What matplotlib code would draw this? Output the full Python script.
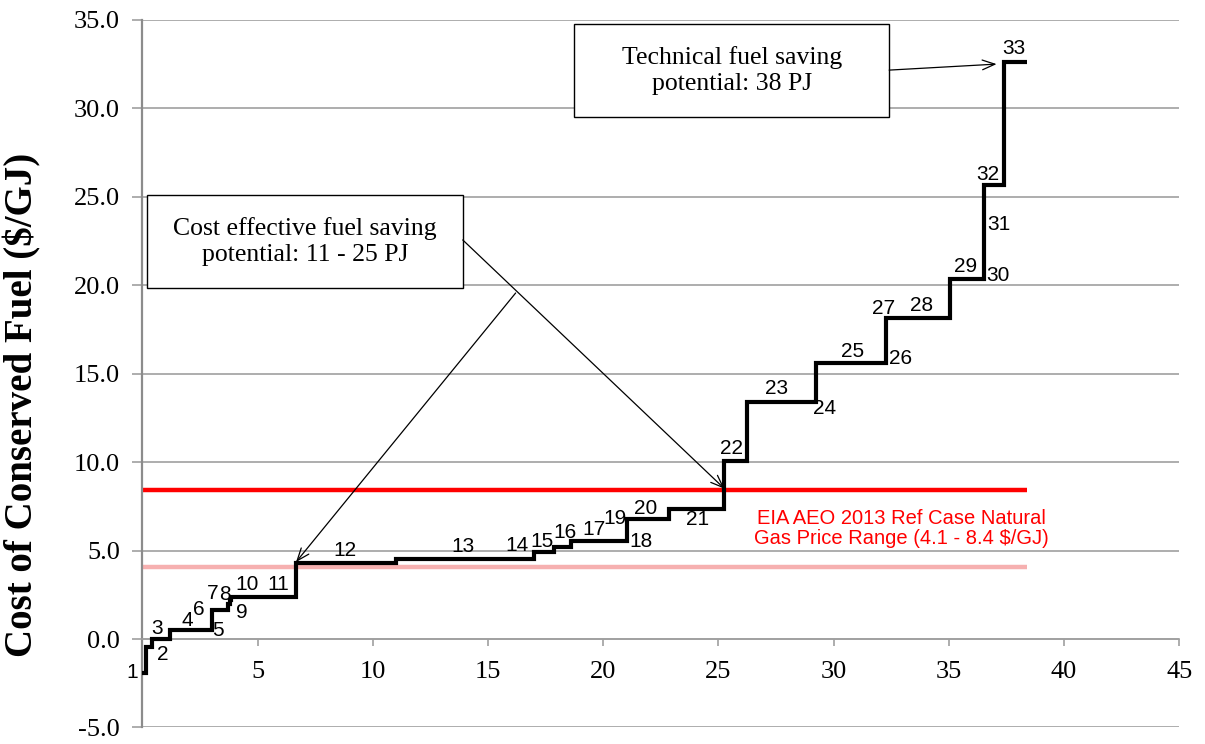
import numpy as np
import matplotlib
matplotlib.use("Agg")
import matplotlib.pyplot as plt
from matplotlib.patches import Rectangle

plt.rcParams['axes.unicode_minus'] = False

# ---------------- data ----------------
measure_ids = list(range(1, 34))
savings_pj = [0.15, 0.26, 0.79, 1.30, 0.52, 0.72, 0.06, 0.06, 0.64, 1.00,
              1.17, 4.36, 5.57, 0.40, 0.87, 0.73, 2.00, 0.43, 0.27, 1.54,
              2.42, 0.97, 2.50, 0.49, 2.54, 0.50, 0.80, 2.01, 1.00, 0.45,
              0.30, 0.55, 1.04]
cost_per_gj = [-1.90, -0.45, 0.00, 0.50, 0.50, 1.64, 2.00, 2.20, 2.39, 2.39,
               2.39, 4.30, 4.50, 4.50, 4.94, 5.22, 5.56, 5.56, 6.78, 6.78,
               7.37, 10.08, 13.42, 13.42, 15.63, 15.63, 18.13, 18.13, 20.33, 20.33,
               25.66, 25.66, 32.60]
gas_price_low = 4.1
gas_price_high = 8.4
x_ticks = [5, 10, 15, 20, 25, 30, 35, 40, 45]
y_ticks = [-5, 0, 5, 10, 15, 20, 25, 30, 35]
cost_effective_range = (11, 25)
technical_potential = 38

# ---------------- style ----------------
label_offsets_px = [(-12, 0), (14, -8), (-4, 11), (2, 10), (12, 0), (-21, 1),
                    (-17, 10), (-6, 6), (3, -16), (-10, 12), (-4, 12), (-1, 12),
                    (2, 13), (-12, 14), (-2, 10), (2, 14), (0, 11), (19, -1),
                    (-15, 1), (-5, 11), (1, -11), (-4, 12), (1, 13), (15, -7),
                    (8, 11), (21, 4), (-11, 10), (-6, 13), (4, 13), (19, 4),
                    (12, -39), (-9, 11), (-2, 14)]
SERIF = ['Liberation Serif', 'DejaVu Serif']
SANS = ['Liberation Sans', 'DejaVu Sans']
GRID = '#a0a0a0'

fig = plt.figure(figsize=(12.05, 7.44), dpi=100)
ax = fig.add_axes([0.1181, 0.0222, 0.8606, 0.9511])
ax.set_xlim(0, 45)
ax.set_ylim(-5, 35)

edges = np.concatenate([[0.0], np.cumsum(savings_pj)])
total = edges[-1]

ax.yaxis.grid(True, color=GRID, lw=1.2, zorder=0)
ax.set_axisbelow(True)

# gas price lines
ax.plot([0, total], [gas_price_low, gas_price_low], color='#f6b0b0', lw=3.2,
        solid_capstyle='butt', zorder=2)
ax.plot([0, total], [gas_price_high, gas_price_high], color='#ff0000', lw=3.2,
        solid_capstyle='butt', zorder=2)

# supply curve
st = ax.stairs(cost_per_gj, edges, baseline=None, color='black', lw=3.0, zorder=3)
st.set_joinstyle('miter')

# data labels
for i, (mid, c) in enumerate(zip((edges[:-1] + edges[1:]) / 2, cost_per_gj)):
    dx, dy = label_offsets_px[i]
    ax.annotate(str(measure_ids[i]), xy=(mid, c), xytext=(dx, dy),
                textcoords='offset pixels', ha='center', va='center',
                fontsize=15, family=SANS, color='black', zorder=4)

# red price range text
ax.text(32.95, 6.25, 'EIA AEO 2013 Ref Case Natural\nGas Price Range ('
        f'{gas_price_low} - {gas_price_high} $/GJ)', ha='center', va='center',
        color='#ff0000', fontsize=14.5, family=SANS, linespacing=1.12, zorder=4)

# annotation boxes
ax.add_patch(Rectangle((0.0048, 0.6215), 0.3043, 0.1311, transform=ax.transAxes,
                       facecolor='white', edgecolor='black', lw=1.0, zorder=5))
ax.text(0.1570, 0.687,
        f'Cost effective fuel saving\npotential: {cost_effective_range[0]} - {cost_effective_range[1]} PJ',
        transform=ax.transAxes, ha='center', va='center', fontsize=18.5,
        family=SERIF, linespacing=1.25, zorder=6)
ax.add_patch(Rectangle((0.4164, 0.8623), 0.3038, 0.1319, transform=ax.transAxes,
                       facecolor='white', edgecolor='black', lw=1.0, zorder=5))
ax.text(0.5683, 0.928, f'Technical fuel saving\npotential: {technical_potential} PJ',
        transform=ax.transAxes, ha='center', va='center', fontsize=18.5,
        family=SERIF, linespacing=1.25, zorder=6)

arrow = dict(arrowstyle='->,head_length=0.9,head_width=0.35', lw=0.9,
             color='black', shrinkA=0, shrinkB=0)
ax.annotate('', xy=(edges[21], 8.5), xycoords='data', xytext=(0.309, 0.689),
            textcoords='axes fraction', arrowprops=arrow, zorder=6)
ax.annotate('', xy=(edges[11], 4.35), xycoords='data', xytext=(0.360, 0.614),
            textcoords='axes fraction', arrowprops=arrow, zorder=6)
ax.annotate('', xy=(edges[32] - 0.3, 32.5), xycoords='data', xytext=(0.7202, 0.929),
            textcoords='axes fraction', arrowprops=arrow, zorder=6)

# axes styling
for s in ['top', 'right']:
    ax.spines[s].set_visible(False)
ax.spines['bottom'].set_position(('data', 0))
ax.spines['bottom'].set_color(GRID)
ax.spines['bottom'].set_linewidth(1.2)
ax.spines['left'].set_color('#8c8c8c')
ax.spines['left'].set_linewidth(1.6)

ax.set_xticks(x_ticks)
ax.set_xticklabels([str(t) for t in x_ticks], family=SERIF, fontsize=19)
ax.set_yticks(y_ticks)
ax.set_yticklabels([f'{t:.1f}' for t in y_ticks], family=SERIF, fontsize=19)
ax.tick_params(axis='x', direction='out', length=5, width=1.2, color=GRID, pad=11)
ax.tick_params(axis='y', direction='out', length=7, width=1.2, color=GRID, pad=9)

ax.set_ylabel('Cost of Conserved Fuel ($/GJ)', family=SERIF, fontsize=28,
              fontweight='bold')
ax.yaxis.set_label_coords(-0.097, 0.456)

fig.savefig('out.png', dpi=100)
